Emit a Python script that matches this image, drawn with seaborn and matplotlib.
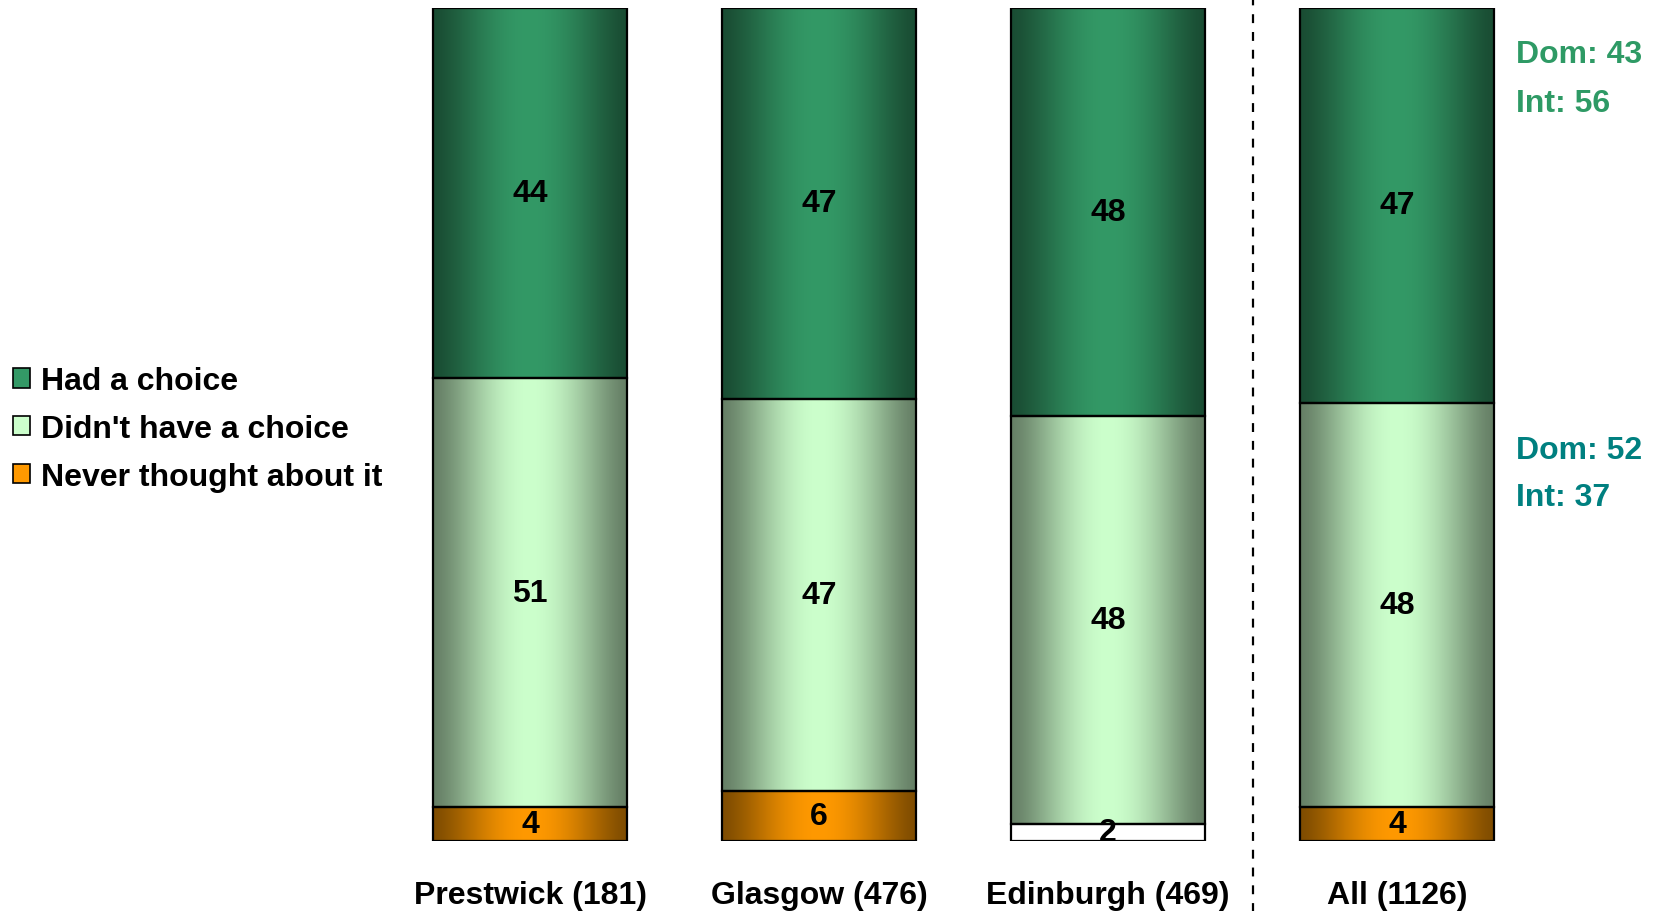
import numpy as np
import pandas as pd
import matplotlib
matplotlib.use("Agg")
import matplotlib.pyplot as plt
from matplotlib.patches import Patch
from matplotlib.colors import to_rgb
import seaborn as sns

categories = ["Prestwick (181)", "Glasgow (476)", "Edinburgh (469)", "All (1126)"]
had_choice = [44, 47, 48, 47]
no_choice = [51, 47, 48, 48]
never_thought = [4, 6, 2, 4]
series_names = ["Had a choice", "Didn't have a choice", "Never thought about it"]
dom_int_top = ["Dom: 43", "Int: 56"]
dom_int_mid = ["Dom: 52", "Int: 37"]

sns.set_theme(style="white")
plt.rcParams["font.family"] = ["Liberation Sans", "DejaVu Sans"]
plt.rcParams["font.weight"] = "bold"
plt.rcParams["text.color"] = "black"
plt.rcParams["xtick.color"] = "black"
plt.rcParams["xtick.labelcolor"] = "black"

FS = 23
colors = ["#339966", "#CCFFCC", "#FF9900"]

W, H = 1663, 912
fig = plt.figure(figsize=(W / 100, H / 100), dpi=100)
ax = fig.add_axes([385.5 / W, 70 / H, (1541.5 - 385.5) / W, (842 - 8.5) / H])

series = [had_choice, no_choice, never_thought]
totals = np.array(had_choice) + np.array(no_choice) + np.array(never_thought)
norm = [np.array(s) / totals * 100 for s in series]
order = [2, 1, 0]
bottom = np.zeros(len(categories))
segments = []
for idx in order:
    df = pd.DataFrame({"cat": categories, "val": norm[idx]})
    n_before = len(ax.patches)
    sns.barplot(data=df, x="cat", y="val", ax=ax, color=colors[idx], width=0.67,
                bottom=bottom.copy(), edgecolor="black", linewidth=1.6, saturation=1,
                errorbar=None)
    new = ax.patches[n_before:]
    for j, p in enumerate(new):
        segments.append((p, idx, j, series[idx][j], bottom[j] + norm[idx][j] / 2))
    bottom = bottom + norm[idx]

t = np.linspace(0, 1, 256)
prof = 0.5 + 0.5 * np.sin(np.pi * t) ** 1.4
for p, idx, j, raw, ymid in segments:
    p.set_zorder(3)
    if idx == 2 and categories[j].startswith("Edinburgh"):
        p.set_facecolor("white")
    else:
        c = np.array(to_rgb(colors[idx]))
        img = (prof[:, None] * c[None, :])[None, :, :]
        x0, y0 = p.get_x(), p.get_y()
        w, h = p.get_width(), p.get_height()
        im = ax.imshow(img, extent=[x0, x0 + w, y0, y0 + h], aspect="auto",
                       interpolation="bilinear", zorder=2)
        im.set_clip_path(p)
        p.set_facecolor("none")
    ax.text(p.get_x() + p.get_width() / 2, ymid, f"{raw}", ha="center", va="center",
            fontsize=FS, fontweight="bold", color="black", zorder=5)

ax.set_xlim(-0.5, 3.5)
ax.set_ylim(0, 100)
ax.set_xlabel("")
ax.set_ylabel("")
ax.set_yticks([])
ax.tick_params(axis="x", length=0, pad=28, labelsize=FS, labelcolor="black")
for lab in ax.get_xticklabels():
    lab.set_fontweight("bold")
for s in ax.spines.values():
    s.set_visible(False)

ax.axvline(2.5, ymin=-0.09, ymax=1.02, clip_on=False, color="black",
           linestyle=(0, (4, 4)), linewidth=1.6)

for txt, yy, col in [(dom_int_top[0], 55, "#2E9A65"), (dom_int_top[1], 104, "#2E9A65"),
                     (dom_int_mid[0], 451, "#008080"), (dom_int_mid[1], 498, "#008080")]:
    fig.text(1516 / W, 1 - yy / H, txt, color=col, fontsize=FS,
             fontweight="bold", va="center", ha="left")

handles = [Patch(facecolor=colors[i], edgecolor="black", linewidth=1.2) for i in range(3)]
leg = fig.legend(handles, series_names, loc="center left", bbox_to_anchor=(12.5 / W, 1 - 430 / H),
                 frameon=False, fontsize=FS, handlelength=0.56, handleheight=0.56,
                 handletextpad=0.32, labelspacing=0.55, borderaxespad=0, borderpad=0)
for txt in leg.get_texts():
    txt.set_fontweight("bold")
    txt.set_color("black")

fig.savefig("out.png", dpi=100, facecolor="white")
